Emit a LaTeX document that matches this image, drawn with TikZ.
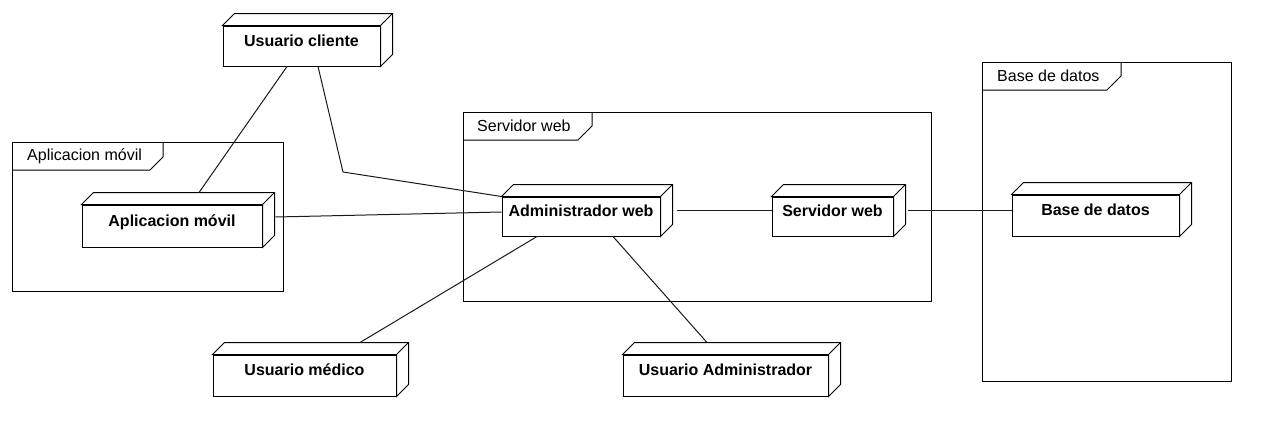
\documentclass[tikz,border=0pt]{standalone}
\usepackage{fontspec}
\setmainfont{Liberation Sans}
\usetikzlibrary{calc, positioning}
\definecolor{UMLink}{HTML}{000000}
\definecolor{UMLlink}{HTML}{1A1A1A}

\begin{document}
\begin{tikzpicture}[x=1pt, y=-1pt,
   umlnode/.style={draw=UMLink, line width=1pt, fill=white, inner sep=0pt,
      font=\fontsize{16}{19}\selectfont\bfseries, text height=10pt, text depth=10pt},
   depthface/.style={draw=UMLink, line width=1pt, fill=white, line join=miter},
   frame/.style={draw=UMLink, line width=1pt},
   framelabel/.style={anchor=west, inner sep=0pt, font=\fontsize{16}{19}\selectfont},
   link/.style={draw=UMLlink, line width=1pt}]
   \useasboundingbox (0,0) rectangle (1281,447);
   % Frames with their tabs
   \draw[frame] (12,142) rectangle (283,291);
   \draw[frame] (12,170) -- (150,170) -- (163,157) -- (163,142);
   \node[framelabel] (lblmovil) at (27,156) {Aplicacion móvil};
   \draw[frame] (463,112) rectangle (931,301);
   \draw[frame] (463,140) -- (578,140) -- (592,126) -- (592,112);
   \node[framelabel] (lblserv) at (477,126) {Servidor web};
   \draw[frame] (982,62) rectangle (1231,381);
   \draw[frame] (982,90) -- (1107,90) -- (1121,76) -- (1121,62);
   \node[framelabel] (lblbd) at (997,76) {Base de datos};
   % Nodes (front faces)
   \node[umlnode, minimum width=157pt, minimum height=40pt] (cliente) at (301.5,46) {Usuario cliente};
   \node[umlnode, minimum width=180pt, minimum height=42pt] (movil) at (172,226) {Aplicacion móvil};
   \node[umlnode, minimum width=158pt, minimum height=39pt] (admin) at (581,216.5) {Administrador web};
   \node[umlnode, minimum width=121pt, minimum height=39pt] (servweb) at (832.5,216.5) {Servidor web};
   \node[umlnode, minimum width=167pt, minimum height=41pt] (bd) at (1095.5,215.5) {Base de datos};
   \node[umlnode, minimum width=183pt, minimum height=41pt] (medico) at (304.5,375.5) {Usuario médico};
   \node[umlnode, minimum width=205pt, minimum height=41pt] (uadmin) at (725.5,375.5) {Usuario Administrador};
   % Depth of the boxes
   \foreach \n in {cliente, movil, admin, servweb, bd, medico, uadmin} {
      \draw[depthface] (\n.north west) -- ++(12,-12) -- ($(\n.north east)+(12,-12)$)
         -- ($(\n.south east)+(12,-12)$) -- (\n.south east) -- (\n.north east) -- cycle;
      \draw[depthface] (\n.north east) -- ++(12,-12);
   }
   % Connectors
   \coordinate (bend) at (343,172);
   \draw[link] ([xshift=-14.5pt]cliente.south) -- ([xshift=27pt, yshift=12pt]movil.north);
   \draw[link] ([xshift=16.5pt]cliente.south) -- (bend) -- (admin.north west);
   \draw[link] ([xshift=13pt, yshift=9pt]movil.east) -- ([yshift=4.5pt]admin.west);
   \draw[link] ([xshift=-44pt]admin.south) -- ([xshift=55.5pt, yshift=12pt]medico.north);
   \draw[link] ([xshift=32pt]admin.south) -- ([xshift=-18.5pt, yshift=12pt]uadmin.north);
   \draw[link] ([xshift=16pt, yshift=6.5pt]admin.east) -- ([yshift=6.5pt]servweb.west);
   \draw[link] ([xshift=14pt, yshift=6.5pt]servweb.east) -- ([yshift=5.5pt]bd.west);
\end{tikzpicture}
\end{document}
